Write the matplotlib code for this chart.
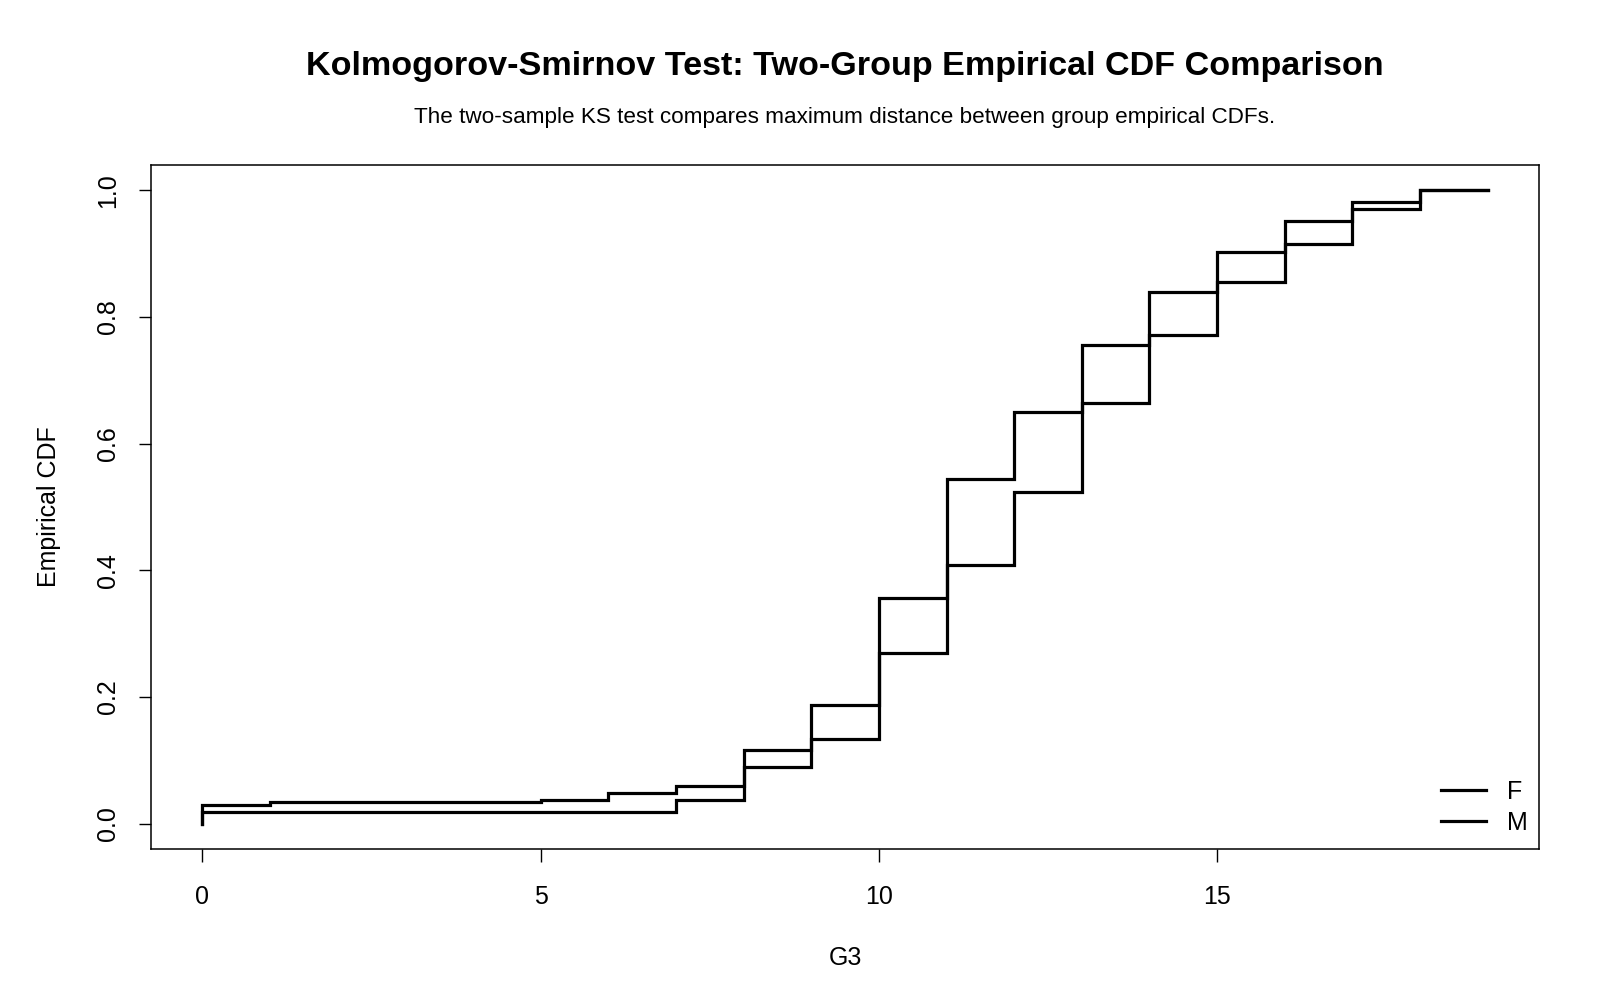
import matplotlib
matplotlib.use("Agg")
import matplotlib.pyplot as plt
import numpy as np

plt.rcParams['font.family'] = ['Liberation Sans', 'DejaVu Sans']

# ECDF step values (value of CDF from each x onward)
f_x = [0, 7, 8, 9, 10, 11, 12, 13, 14, 15, 16, 17, 18, 19]
f_cdf = [0.018, 0.037, 0.089, 0.133, 0.269, 0.408, 0.523, 0.665, 0.771, 0.855, 0.915, 0.971, 1.0, 1.0]

m_x = [0, 1, 5, 6, 7, 8, 9, 10, 11, 12, 13, 14, 15, 16, 17, 18, 19]
m_cdf = [0.030, 0.034, 0.038, 0.049, 0.060, 0.117, 0.188, 0.357, 0.545, 0.650, 0.756, 0.839, 0.902, 0.951, 0.981, 1.0, 1.0]

groups = ["F", "M"]
x_ticks = [0, 5, 10, 15]
y_ticks = [0.0, 0.2, 0.4, 0.6, 0.8, 1.0]

fig = plt.figure(figsize=(16, 10), dpi=100)
ax = fig.add_axes([0.0944, 0.151, 0.9619 - 0.0944, 0.835 - 0.151])

for xs, ys, lab in [(f_x, f_cdf, groups[0]), (m_x, m_cdf, groups[1])]:
    px = [xs[0]] + list(xs)
    py = [0.0] + list(ys)
    ax.step(px, py, where='post', color='black', lw=2.3, label=lab,
            solid_joinstyle='miter')

ax.set_xlim(-0.76, 19.76)
ax.set_ylim(-0.04, 1.04)
ax.set_xticks(x_ticks)
ax.set_xticklabels([str(t) for t in x_ticks])
ax.set_yticks(y_ticks)
ax.set_yticklabels([f"{t:.1f}" for t in y_ticks], rotation=90, va='center')
ax.tick_params(direction='out', length=9, width=1, labelsize=18)
ax.tick_params(axis='x', pad=17)
ax.tick_params(axis='y', pad=13)
for s in ax.spines.values():
    s.set_linewidth(1.1)

ax.set_xlabel("G3", fontsize=18)
ax.set_ylabel("Empirical CDF", fontsize=18)
ax.xaxis.set_label_coords(0.5, -0.1415)
ax.yaxis.set_label_coords(-0.0646, 0.5)

cx = 0.528
fig.text(cx, 0.934, "Kolmogorov-Smirnov Test: Two-Group Empirical CDF Comparison",
         ha='center', va='center', fontsize=24.6, fontweight='bold')
fig.text(cx, 0.883, "The two-sample KS test compares maximum distance between group empirical CDFs.",
         ha='center', va='center', fontsize=16.2)

ax.legend(loc='lower right', frameon=False, fontsize=18, handlelength=1.8,
          handletextpad=0.85, labelspacing=0.28, borderpad=0, borderaxespad=0,
          bbox_to_anchor=(0.992, 0.021))

fig.savefig("out.png", dpi=100)
